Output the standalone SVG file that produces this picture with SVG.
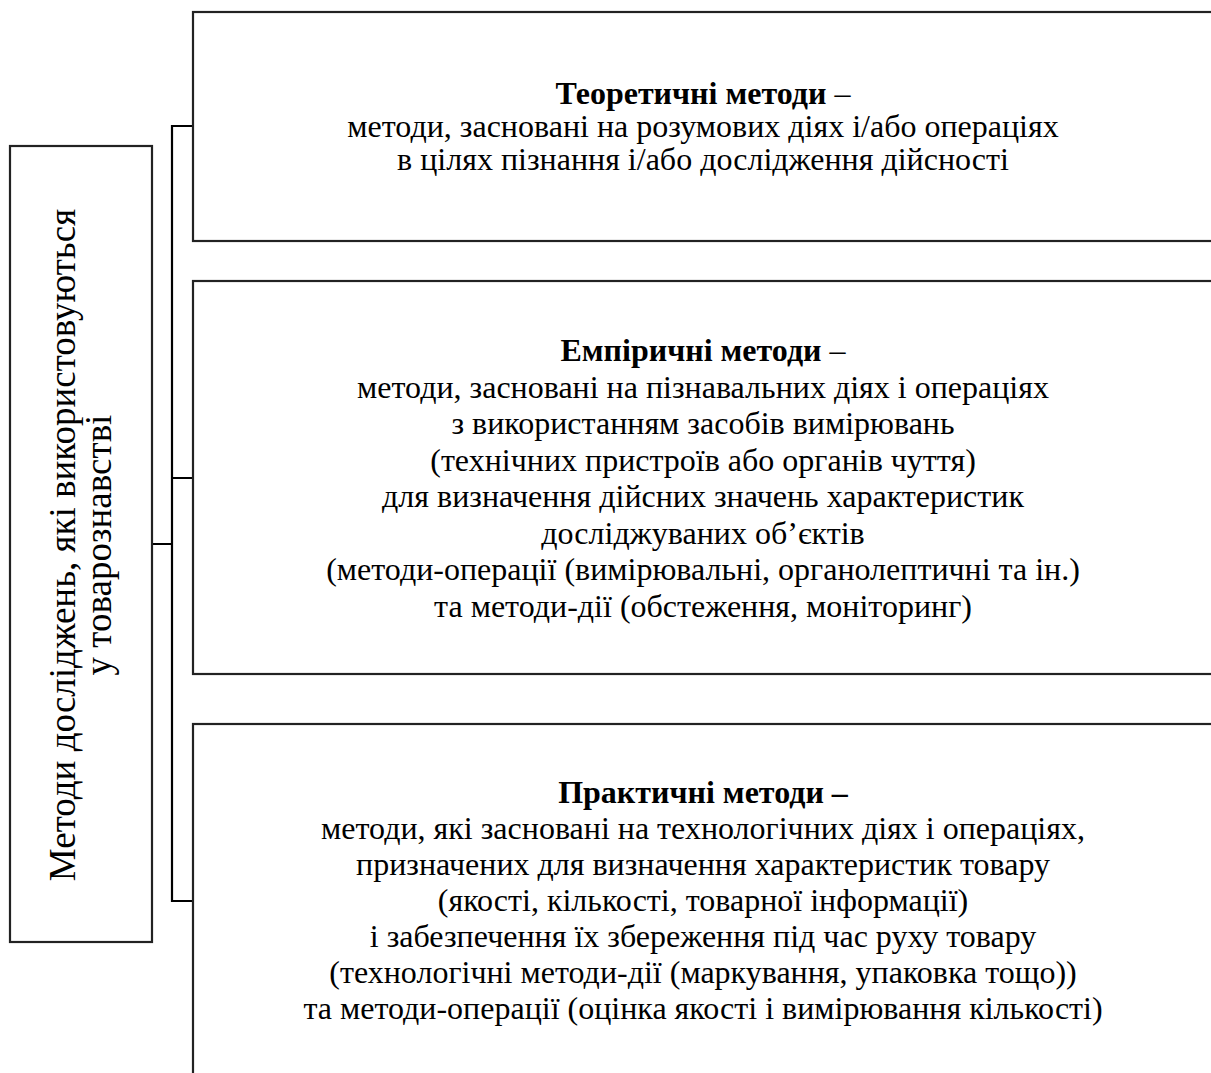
<svg xmlns="http://www.w3.org/2000/svg" width="1211" height="1073" viewBox="0 0 1211 1073">
<style>
.box{fill:#fff;stroke:#222;stroke-width:2.2}
.conn{fill:none;stroke:#000;stroke-width:2.2}
.t{font-family:'Liberation Serif','DejaVu Serif',serif;font-size:32px;fill:#000;text-anchor:middle}
.b{font-weight:bold}
.v{font-family:'Liberation Serif','DejaVu Serif',serif;font-size:37px;fill:#000;text-anchor:middle}
</style>
<rect width="1211" height="1073" fill="#fff"/>
<g id="connectors">
<path class="conn" d="M152,544 H172 M193,126 H172 V901 H193 M172,478 H193"/>
</g>
<g id="root">
<rect class="box" x="10" y="146" width="142" height="796"/>
<g transform="translate(81,545) rotate(-90)">
<text class="v" x="0" y="-6">Методи досліджень, які використовуються</text>
<text class="v" x="0" y="30">у товарознавстві</text>
</g>
</g>
<g id="theoretical">
<rect class="box" x="193" y="12" width="1030" height="229"/>
<text class="t" x="703" y="104"><tspan class="b">Теоретичні методи</tspan> –</text>
<text class="t" x="703" y="137">методи, засновані на розумових діях і/або операціях</text>
<text class="t" x="703" y="170">в цілях пізнання і/або дослідження дійсності</text>
</g>
<g id="empirical">
<rect class="box" x="193" y="281" width="1030" height="393"/>
<text class="t" x="703" y="361"><tspan class="b">Емпіричні методи</tspan> –</text>
<text class="t" x="703" y="397.5">методи, засновані на пізнавальних діях і операціях</text>
<text class="t" x="703" y="434">з використанням засобів вимірювань</text>
<text class="t" x="703" y="470.5">(технічних пристроїв або органів чуття)</text>
<text class="t" x="703" y="507">для визначення дійсних значень характеристик</text>
<text class="t" x="703" y="543.5">досліджуваних об’єктів</text>
<text class="t" x="703" y="580">(методи-операції (вимірювальні, органолептичні та ін.)</text>
<text class="t" x="703" y="616.5">та методи-дії (обстеження, моніторинг)</text>
</g>
<g id="practical">
<rect class="box" x="193" y="724" width="1030" height="380"/>
<text class="t b" x="703" y="803">Практичні методи –</text>
<text class="t" x="703" y="839">методи, які засновані на технологічних діях і операціях,</text>
<text class="t" x="703" y="875">призначених для визначення характеристик товару</text>
<text class="t" x="703" y="911">(якості, кількості, товарної інформації)</text>
<text class="t" x="703" y="947">і забезпечення їх збереження під час руху товару</text>
<text class="t" x="703" y="983">(технологічні методи-дії (маркування, упаковка тощо))</text>
<text class="t" x="703" y="1019">та методи-операції (оцінка якості і вимірювання кількості)</text>
</g>
</svg>
